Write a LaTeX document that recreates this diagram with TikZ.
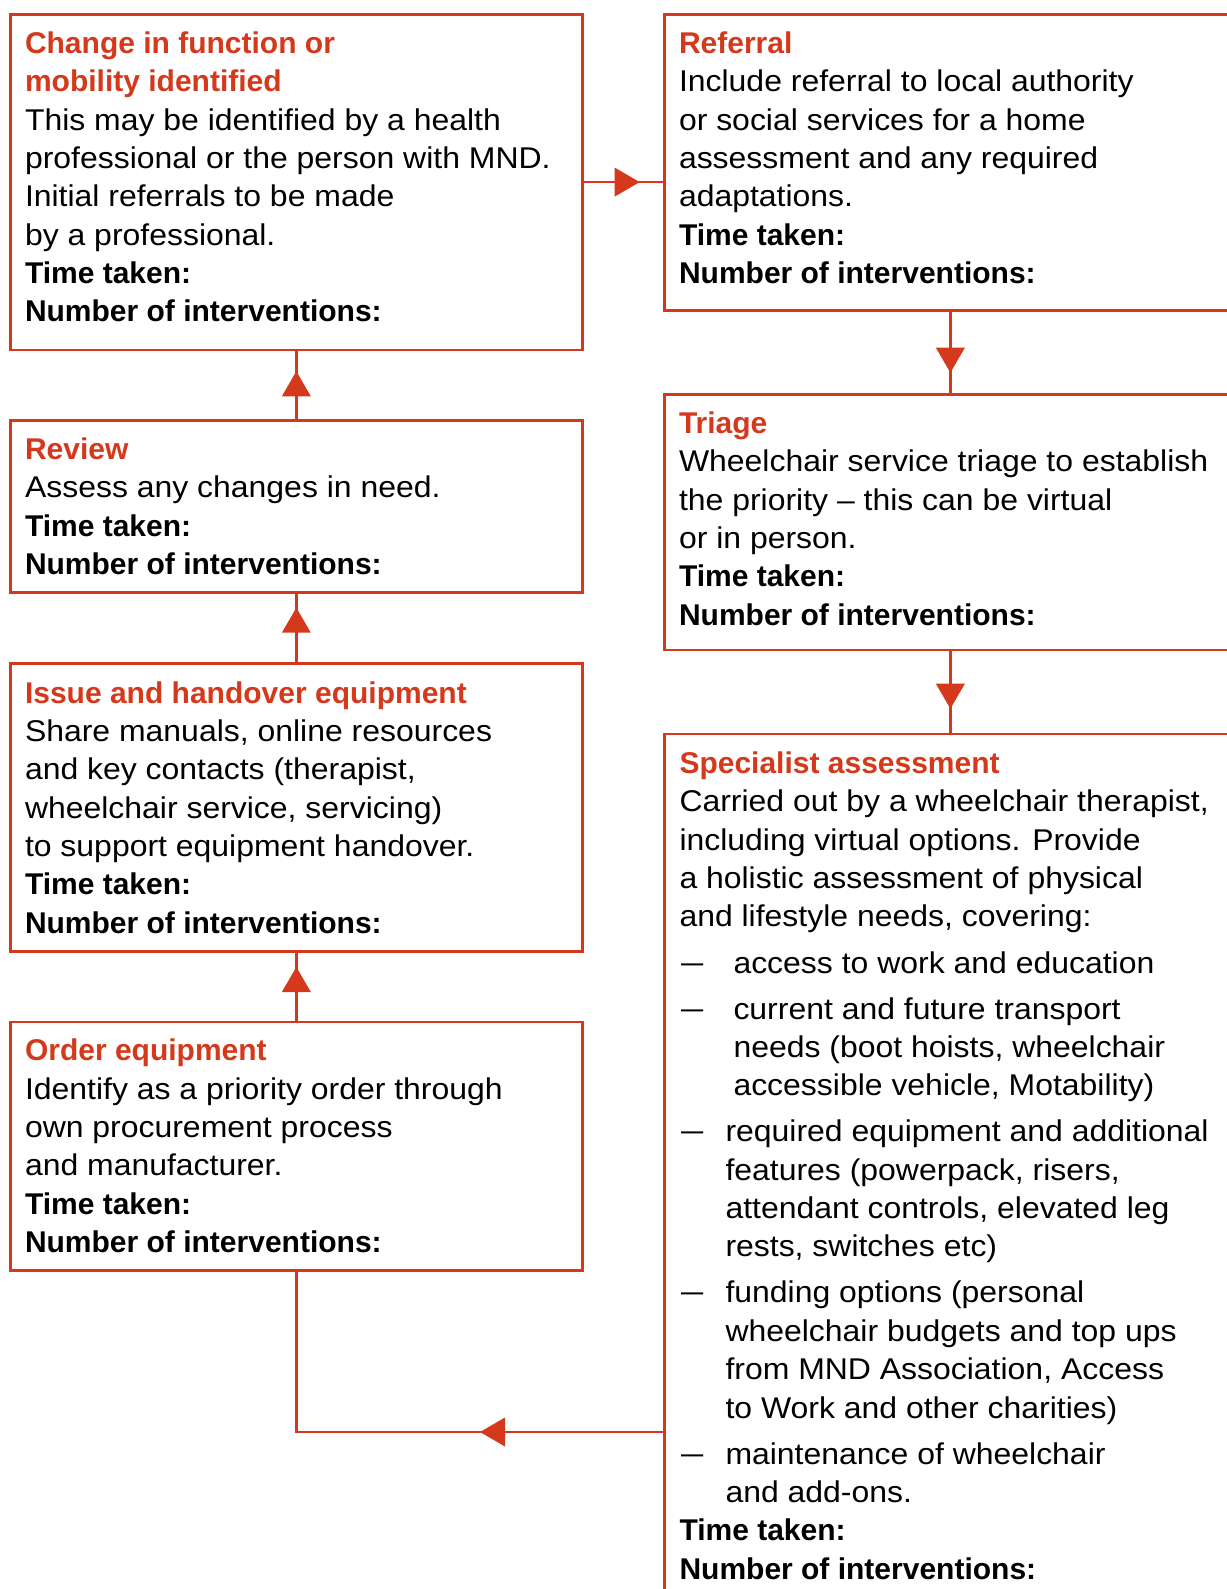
\documentclass[tikz,border=0pt]{standalone}
\usepackage{fontspec}
\usepackage{graphicx}
\setmainfont{Liberation Sans}[FakeStretch=1.065]
\newfontfamily\hfont{Liberation Sans}
\usetikzlibrary{decorations.markings}
\definecolor{mndred}{RGB}{213,57,27}
\newcommand{\hd}[1]{{\hfont\bfseries\color{mndred}#1}}
\newcommand{\bd}[1]{{\hfont\bfseries #1}}
\newcommand{\bodysetup}{\raggedright\fontsize{30pt}{38.36pt}\selectfont\leavevmode}
\newcommand{\dashmark}{\raisebox{1pt}{\scalebox{1.25}[1]{–}}}
\newcommand{\bitem}[2]{\par\vspace{7.7pt}\noindent\hangindent=#1\relax\hangafter=1\relax\makebox[#1][l]{\hspace{1.5pt}\dashmark}#2}
\tikzset{
  box/.style={draw=mndred, line width=2.7pt, rectangle, inner sep=0pt, anchor=north west, minimum width=572pt},
  txt/.style={inner sep=0pt, outer sep=0pt, anchor=base west},
  conn/.style={draw=mndred, line width=2.7pt},
  midtri/.style={postaction={decorate}, decoration={markings, mark=at position #1 with {\fill[mndred] (0pt,-14.5pt) -- (25pt,0pt) -- (0pt,14.5pt) -- cycle;}}}
}
\begin{document}
\begin{tikzpicture}[x=1pt,y=-1pt]
\fill[white] (0,0) rectangle (1226,1589);
\useasboundingbox (0,0) rectangle (1226,1589);

% boxes
\node[box, minimum height=335.5pt] (change) at (9,13) {};
\node[box, minimum height=296pt] (referral) at (663,13) {};
\node[box, minimum height=255.5pt] (triage) at (663,393) {};
\node[box, minimum height=900pt] (specialist) at (663,732.6) {};
\node[box, minimum height=171.7pt] (review) at (9,419.3) {};
\node[box, minimum height=288pt] (issue) at (9,662) {};
\node[box, minimum height=248.5pt] (order) at (9,1020.5) {};

% texts
\node[txt] (changetxt) at (25,53.3) {\parbox[t]{560pt}{\bodysetup
\hd{Change in function or}\\
\hd{mobility identified}\\
This may be identified by a health\\
professional or the person with MND.\\
Initial referrals to be made\\
by a professional.\\
\bd{Time taken:}\\
\bd{Number of interventions:}}};

\node[txt] (referraltxt) at (679,53.3) {\parbox[t]{560pt}{\bodysetup
\hd{Referral}\\
Include referral to local authority\\
or social services for a home\\
assessment and any required\\
adaptations.\\
\bd{Time taken:}\\
\bd{Number of interventions:}}};

\node[txt] (triagetxt) at (679,433.3) {\parbox[t]{560pt}{\bodysetup
\hd{Triage}\\
Wheelchair service triage to establish\\
the priority – this can be virtual\\
or in person.\\
\bd{Time taken:}\\
\bd{Number of interventions:}}};

\node[txt] (spectxt) at (679.5,773.5) {\parbox[t]{560pt}{\bodysetup
\hd{Specialist assessment}\\
Carried out by a wheelchair therapist,\\
including virtual options. Provide\\
a holistic assessment of physical\\
and lifestyle needs, covering:
\bitem{54pt}{access to work and education}
\bitem{54pt}{current and future transport\newline needs (boot hoists, wheelchair\newline accessible vehicle, Motability)}
\bitem{46pt}{required equipment and additional\newline features (powerpack, risers,\newline attendant controls, elevated leg\newline rests, switches etc)}
\bitem{46pt}{funding options (personal\newline wheelchair budgets and top ups\newline from MND Association, Access\newline to Work and other charities)}
\bitem{46pt}{maintenance of wheelchair\newline and add-ons.}
\par\noindent\bd{Time taken:}\\
\bd{Number of interventions:}}};

\node[txt] (reviewtxt) at (25,459.6) {\parbox[t]{560pt}{\bodysetup
\hd{Review}\\
Assess any changes in need.\\
\bd{Time taken:}\\
\bd{Number of interventions:}}};

\node[txt] (issuetxt) at (25,703) {\parbox[t]{560pt}{\bodysetup
\hd{Issue and handover equipment}\\
Share manuals, online resources\\
and key contacts (therapist,\\
wheelchair service, servicing)\\
to support equipment handover.\\
\bd{Time taken:}\\
\bd{Number of interventions:}}};

\node[txt] (ordertxt) at (25,1060.8) {\parbox[t]{560pt}{\bodysetup
\hd{Order equipment}\\
Identify as a priority order through\\
own procurement process\\
and manufacturer.\\
\bd{Time taken:}\\
\bd{Number of interventions:}}};

% connectors
\draw[conn, midtri=31pt] (change.east) -- (change.east -| referral.west);
\draw[conn, midtri=36pt] (referral.south) -- (triage.north);
\draw[conn, midtri=32.5pt] (triage.south) -- (specialist.north);
\draw[conn, midtri=23pt] (review.north) -- (change.south);
\draw[conn, midtri=29.3pt] (issue.north) -- (review.south);
\draw[conn, midtri=28.5pt] (order.north) -- (issue.south);
\coordinate (bend) at (order.south |- 0,1432);
\draw[conn, midtri=158pt] (specialist.west |- bend) -- (bend) -- (order.south);
\end{tikzpicture}
\end{document}
